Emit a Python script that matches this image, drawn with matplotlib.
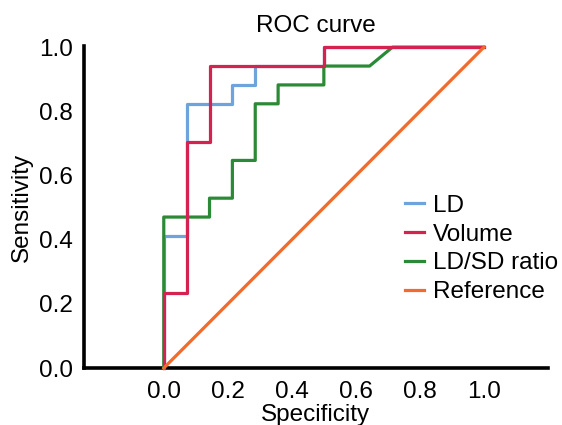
import matplotlib
matplotlib.use("Agg")
import matplotlib.pyplot as plt

plt.rcParams['font.family'] = ['Liberation Sans', 'DejaVu Sans']

# ROC step curves (x = 1 - specificity fraction as drawn, y = sensitivity)
ld_x = [0, 0, 1/14, 1/14, 3/14, 3/14, 4/14, 4/14, 7/14, 7/14, 1.0]
ld_y = [0, 7/17, 7/17, 14/17, 14/17, 15/17, 15/17, 16/17, 16/17, 1.0, 1.0]

vol_x = [0, 0, 1/14, 1/14, 2/14, 2/14, 7/14, 7/14, 1.0]
vol_y = [0, 4/17, 4/17, 12/17, 12/17, 16/17, 16/17, 1.0, 1.0]

ratio_x = [0, 0, 2/14, 2/14, 3/14, 3/14, 4/14, 4/14, 5/14, 5/14, 7/14, 7/14, 9/14, 10/14, 1.0]
ratio_y = [0, 8/17, 8/17, 9/17, 9/17, 11/17, 11/17, 14/17, 14/17, 15/17, 15/17, 16/17, 16/17, 1.0, 1.0]

ref_x = [0, 1]
ref_y = [0, 1]

labels = ['LD', 'Volume', 'LD/SD ratio', 'Reference']
colors = ['#6fa3dc', '#d42350', '#2b8a35', '#f26a2c']
ticks = [0.0, 0.2, 0.4, 0.6, 0.8, 1.0]

FS = 17.5

fig = plt.figure(figsize=(5.62, 4.25), dpi=100)
ax = fig.add_axes([0.149, 0.134, 0.826, 0.755])

lw = 2.3
h_ld, = ax.plot(ld_x, ld_y, color=colors[0], lw=lw, clip_on=False, zorder=2)
h_ratio, = ax.plot(ratio_x, ratio_y, color=colors[2], lw=lw, clip_on=False, zorder=3)
h_vol, = ax.plot(vol_x, vol_y, color=colors[1], lw=lw, clip_on=False, zorder=4)
h_ref, = ax.plot(ref_x, ref_y, color=colors[3], lw=lw, clip_on=False, zorder=5)

ax.set_xlim(-0.25, 1.2)
ax.set_ylim(0, 1.0)
ax.set_xticks(ticks)
ax.set_yticks(ticks)
ax.set_xticklabels([f"{t:.1f}" for t in ticks])
ax.set_yticklabels([f"{t:.1f}" for t in ticks])
ax.tick_params(axis='both', length=0, labelsize=FS)
ax.tick_params(axis='x', pad=9)
ax.tick_params(axis='y', pad=8)

for s in ['top', 'right']:
    ax.spines[s].set_visible(False)
for s in ['left', 'bottom']:
    ax.spines[s].set_linewidth(2.6)
    ax.spines[s].set_color('black')
ax.spines['left'].set_bounds(0, 1.005)

ax.set_title('ROC curve', fontsize=FS, pad=11)
ax.set_xlabel('Specificity', fontsize=FS, labelpad=1)
ax.set_ylabel('Sensitivity', fontsize=FS, labelpad=4)

leg = ax.legend([h_ld, h_vol, h_ratio, h_ref], labels, loc='upper left',
                bbox_to_anchor=(0.692, 0.54), frameon=False, fontsize=FS,
                handlelength=0.8, handletextpad=0.35, labelspacing=0.28,
                borderaxespad=0, borderpad=0)

fig.savefig('out.png', dpi=100)
